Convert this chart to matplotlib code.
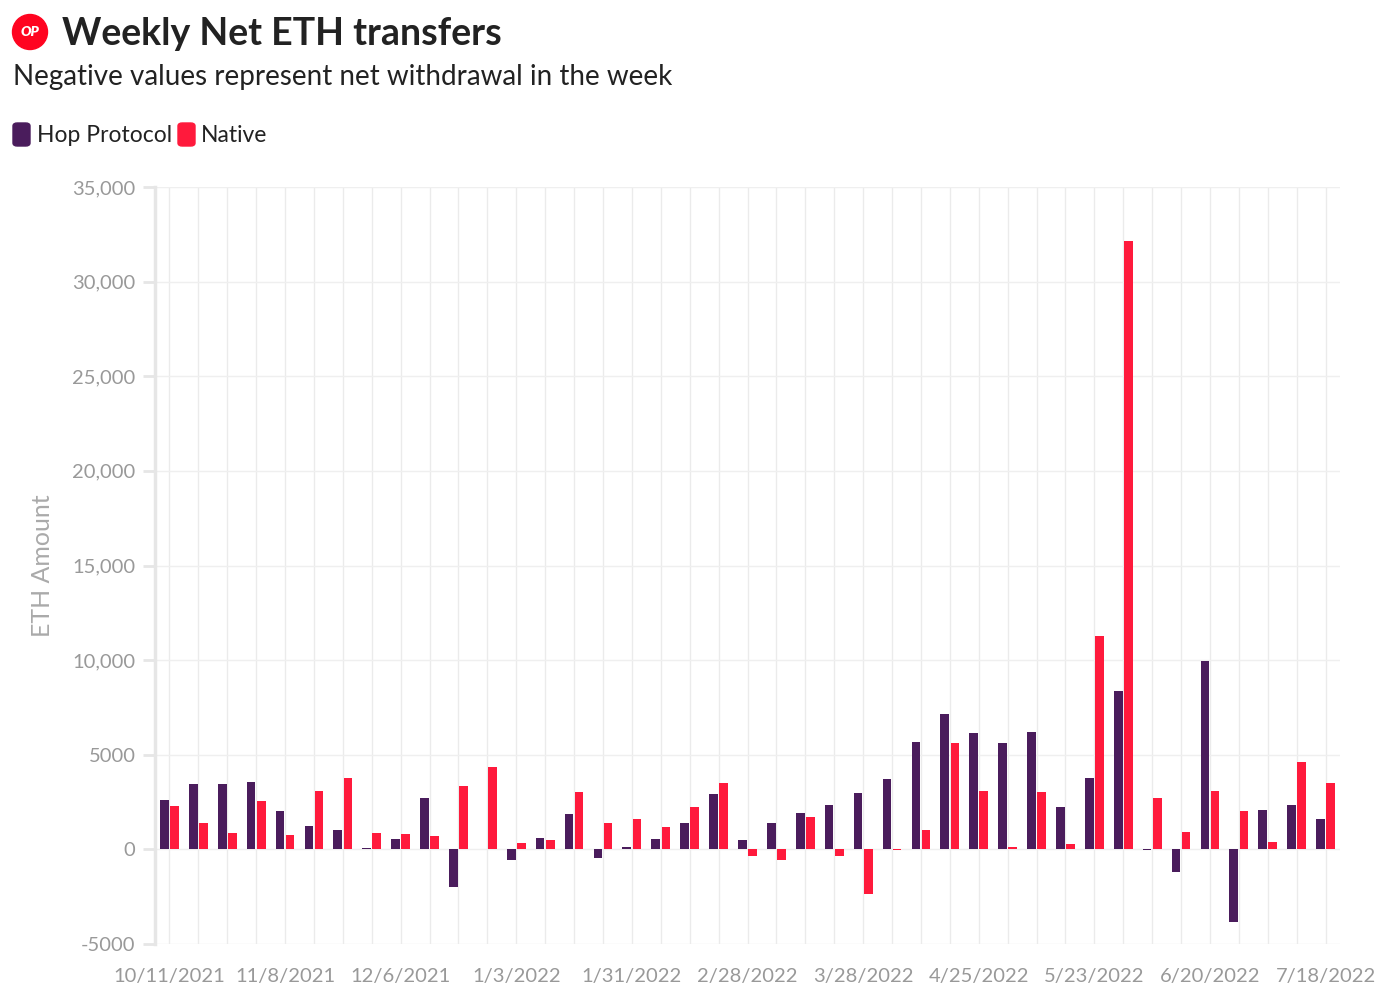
import matplotlib.pyplot as plt
from matplotlib.patches import Circle, FancyBboxPatch

weeks = ['10/11/2021', '10/18/2021', '10/25/2021', '11/1/2021', '11/8/2021',
         '11/15/2021', '11/22/2021', '11/29/2021', '12/6/2021', '12/13/2021',
         '12/20/2021', '12/27/2021', '1/3/2022', '1/10/2022', '1/17/2022',
         '1/24/2022', '1/31/2022', '2/7/2022', '2/14/2022', '2/21/2022',
         '2/28/2022', '3/7/2022', '3/14/2022', '3/21/2022', '3/28/2022',
         '4/4/2022', '4/11/2022', '4/18/2022', '4/25/2022', '5/2/2022',
         '5/9/2022', '5/16/2022', '5/23/2022', '5/30/2022', '6/6/2022',
         '6/13/2022', '6/20/2022', '6/27/2022', '7/4/2022', '7/11/2022',
         '7/18/2022']

hop = [2590, 3480, 3430, 3550, 2040, 1210, 1000, 50, 530, 2690,
       -2000, 20, -550, 580, 1860, -440, 100, 540, 1400, 2930,
       470, 1420, 1900, 2320, 2960, 3710, 5680, 7160, 6140, 5630,
       6200, 2220, 3770, 8380, -20, -1200, 9980, -3850, 2060, 2320,
       1600]

native = [2270, 1400, 850, 2530, 750, 3080, 3760, 880, 790, 700,
          3360, 4340, 350, 480, 3040, 1390, 1600, 1180, 2230, 3500,
          -370, -580, 1720, -340, -2340, -30, 1030, 5630, 3100, 140,
          3030, 260, 11300, 32130, 2690, 915, 3060, 2020, 400, 4630,
          3500]

yticks = [-5000, 0, 5000, 10000, 15000, 20000, 25000, 30000, 35000]
ytick_labels = ['-5000', '0', '5000', '10,000', '15,000', '20,000', '25,000', '30,000', '35,000']

hop_color = '#4a1c5c'
native_color = '#ff1a3c'
font = 'Lato'

fig = plt.figure(figsize=(14, 10.02), dpi=100)
ax = fig.add_axes([155 / 1400, 1 - 944 / 1002, 1185 / 1400, 757 / 1002])

x = list(range(len(weeks)))
w = 0.3
ax.bar([i - 0.175 for i in x], hop, width=w, color=hop_color, zorder=3)
ax.bar([i + 0.175 for i in x], native, width=w, color=native_color, zorder=3)

ax.set_xlim(-0.5, len(weeks) - 0.5)
ax.set_ylim(-5000, 35000)

ax.set_xticks(x, minor=True)
ax.set_xticks(x[::4])
ax.set_xticklabels(weeks[::4], fontsize=14.5, color='#999999', family=font)
ax.tick_params(axis='x', which='both', length=0, pad=17)
ax.grid(axis='x', which='both', color='#ebebeb', lw=1, zorder=0)

ax.set_yticks(yticks)
ax.set_yticklabels(ytick_labels, fontsize=14.5, color='#999999', family=font)
ax.tick_params(axis='y', length=9, width=2, color='#e6e6e6', pad=5)
ax.grid(axis='y', color='#efefef', lw=1, zorder=0)

for s in ['top', 'right', 'bottom']:
    ax.spines[s].set_visible(False)
ax.spines['left'].set_color('#e6e6e6')
ax.spines['left'].set_linewidth(2.5)

fig.text(43 / 1400, 1 - 566 / 1002, 'ETH Amount', rotation=90, ha='center', va='center',
         fontsize=18, color='#aaaaaa', family=font)

# header
fig.text(62 / 1400, 1 - 34 / 1002, 'Weekly Net ETH transfers', fontsize=27, fontweight='bold',
         color='#222222', family=font, va='center')
fig.text(13 / 1400, 1 - 77 / 1002, 'Negative values represent net withdrawal in the week',
         fontsize=20, color='#222222', family=font, va='center')

logo = Circle((0.30, 10.02 - 0.32), 0.175, transform=fig.dpi_scale_trans,
              color='#ff0420', zorder=5)
fig.patches.append(logo)
fig.text(30 / 1400, 1 - 32 / 1002, 'OP', fontsize=10, fontweight='heavy', fontstyle='italic',
         color='white', ha='center', va='center', family=font, zorder=6)

# legend
for lx, col, lbl, tx in [(13, hop_color, 'Hop Protocol', 37), (178, native_color, 'Native', 201)]:
    box = FancyBboxPatch((lx / 1400, 1 - 146 / 1002), 17 / 1400, 23 / 1002,
                         boxstyle='round,pad=0,rounding_size=0.003', transform=fig.transFigure,
                         color=col)
    fig.patches.append(box)
    fig.text(tx / 1400, 1 - 135 / 1002, lbl, fontsize=16.5, color='#222222', family=font, va='center')

plt.savefig('out.png', dpi=100)
